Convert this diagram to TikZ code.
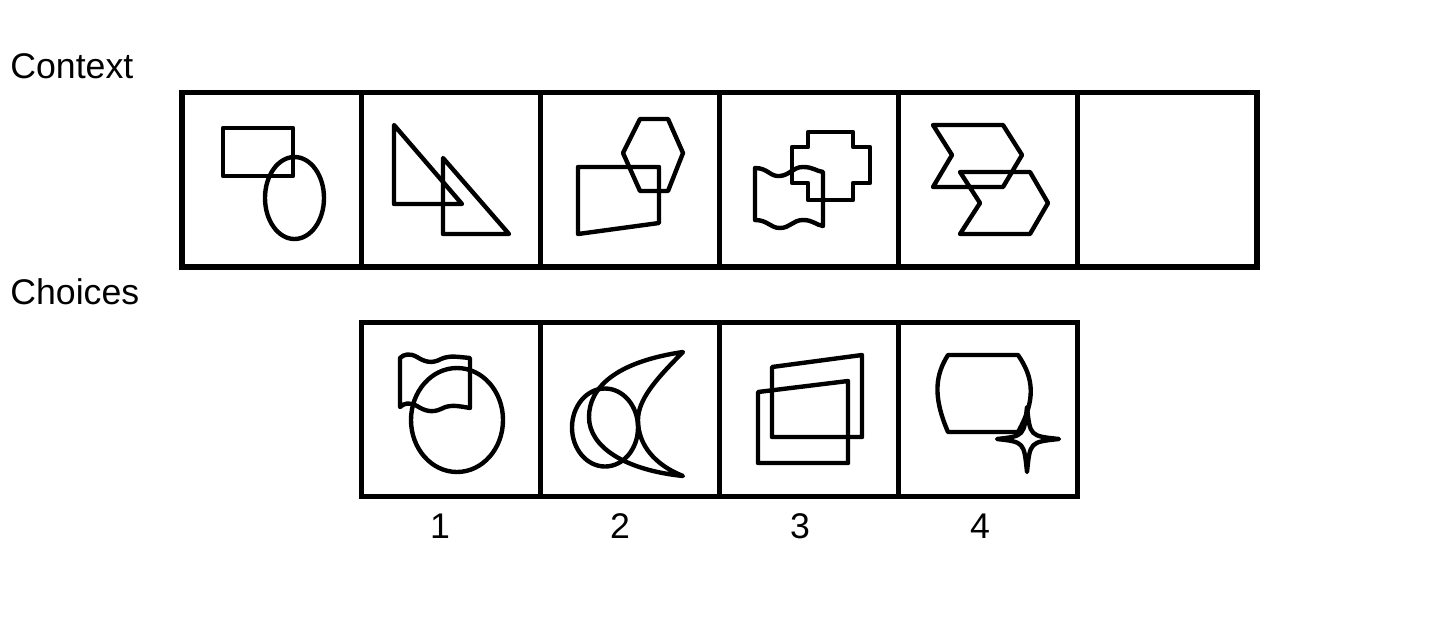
\documentclass[tikz,border=0pt]{standalone}
\usepackage{fontspec}
\setmainfont{Liberation Sans}
\usetikzlibrary{positioning}

\begin{document}
\begin{tikzpicture}[
      x=0.02cm, y=-0.02cm,
      panel/.style={draw=black, line width=2.9pt, outer sep=0pt, inner sep=0pt,
        minimum width=3.584cm, minimum height=3.49cm},
      fig/.style={draw=black, line width=2.5pt, line join=round, line cap=round},
      lbl/.style={font=\fontsize{20.3}{24}\selectfont, inner sep=0pt},
    ]
    \useasboundingbox (0,0) rectangle (1440,640);

    % context row
    \node[panel] (ctx1) at (271.6,179.75) {};
    \node[panel, right=0pt of ctx1] (ctx2) {};
    \node[panel, right=0pt of ctx2] (ctx3) {};
    \node[panel, right=0pt of ctx3] (ctx4) {};
    \node[panel, right=0pt of ctx4] (ctx5) {};
    \node[panel, right=0pt of ctx5] (ctx6) {};

    % choices row
    \node[panel, below=1.11cm of ctx2] (ch1) {};
    \node[panel, right=0pt of ch1] (ch2) {};
    \node[panel, right=0pt of ch2] (ch3) {};
    \node[panel, right=0pt of ch3] (ch4) {};

    \node[lbl, anchor=base west] (context) at (10,78) {Context};
    \node[lbl, anchor=base west] (choices) at (10,304) {Choices};
    \foreach \i/\x in {1/440,2/620,3/800,4/980}
      \node[lbl, anchor=base] (num\i) at (\x,538) {\i};

    % panel 1: rectangle + ellipse
    \draw[fig] (223,128) rectangle (293,176);
    \draw[fig] (294.5,198) ellipse [x radius=29.5, y radius=41];
    % panel 2: two right triangles
    \draw[fig] (394,125) -- (394,204) -- (462,204) -- cycle;
    \draw[fig] (443,158) -- (443,234) -- (509,234) -- cycle;
    % panel 3: quadrilateral + hexagon
    \draw[fig] (578,167) -- (659,167) -- (659,223) -- (578,234) -- cycle;
    \draw[fig] (640,119) -- (668,119) -- (683,153) -- (668,191) -- (640,191) -- (623,153) -- cycle;
    % panel 4: wavy rectangle + cross
    \draw[fig] (755,168) .. controls (768,168) and (770,177) .. (780,176)
      .. controls (790,175) and (793,167) .. (803,167)
      .. controls (813,167) and (816,171) .. (823,172) -- (823,226)
      .. controls (816,225) and (813,220) .. (803,220)
      .. controls (793,220) and (790,228) .. (780,228)
      .. controls (770,228) and (768,220) .. (755,220) -- cycle;
    \draw[fig] (808,132) -- (853,132) -- (853,147) -- (870,147) -- (870,183) -- (853,183)
      -- (853,200) -- (808,200) -- (808,183) -- (792,183) -- (792,147) -- (808,147) -- cycle;
    % panel 5: two chevrons
    \draw[fig] (933,125) -- (1003,125) -- (1022,155) -- (1003,187) -- (933,187) -- (952,155) -- cycle;
    \draw[fig] (960,172) -- (1030,172) -- (1048,203) -- (1030,234) -- (960,234) -- (980,203) -- cycle;

    % choice 1: flag + ellipse
    \draw[fig] (400,358) .. controls (404,354) and (410,353) .. (417,357)
      .. controls (425,362) and (432,364) .. (441,359)
      .. controls (450,355) and (458,357) .. (470,358) -- (470,408)
      .. controls (458,406) and (450,404) .. (441,409)
      .. controls (432,413) and (425,411) .. (417,406)
      .. controls (410,402) and (404,403) .. (400,407) -- cycle;
    \draw[fig] (457,420) ellipse [x radius=46, y radius=52];
    % choice 2: ellipse + crescent
    \draw[fig] (605,427.5) ellipse [x radius=33, y radius=39];
    \draw[fig] (683,352) .. controls (615,362) and (589,388) .. (589,417)
      .. controls (589,447) and (625,470) .. (683,476)
      .. controls (655,465) and (638,445) .. (638,420)
      .. controls (638,400) and (655,380) .. (683,352) -- cycle;
    % choice 3: two slanted rectangles
    \draw[fig] (772,367) -- (862,355) -- (862,437) -- (772,437) -- cycle;
    \draw[fig] (758,392) -- (848,381) -- (848,463) -- (758,463) -- cycle;
    % choice 4: barrel + star
    \draw[fig] (948,355) -- (1018,355) .. controls (1034,378) and (1036,400) .. (1018,432)
      -- (948,432) .. controls (932,395) and (936,374) .. (948,355) -- cycle;
    \draw[fig, fill=white] (1027,407) .. controls (1030,436) .. (1059,439)
      .. controls (1030,442) .. (1027,472) .. controls (1024,442) .. (997,439)
      .. controls (1024,436) .. (1027,407) -- cycle;
\end{tikzpicture}
\end{document}
